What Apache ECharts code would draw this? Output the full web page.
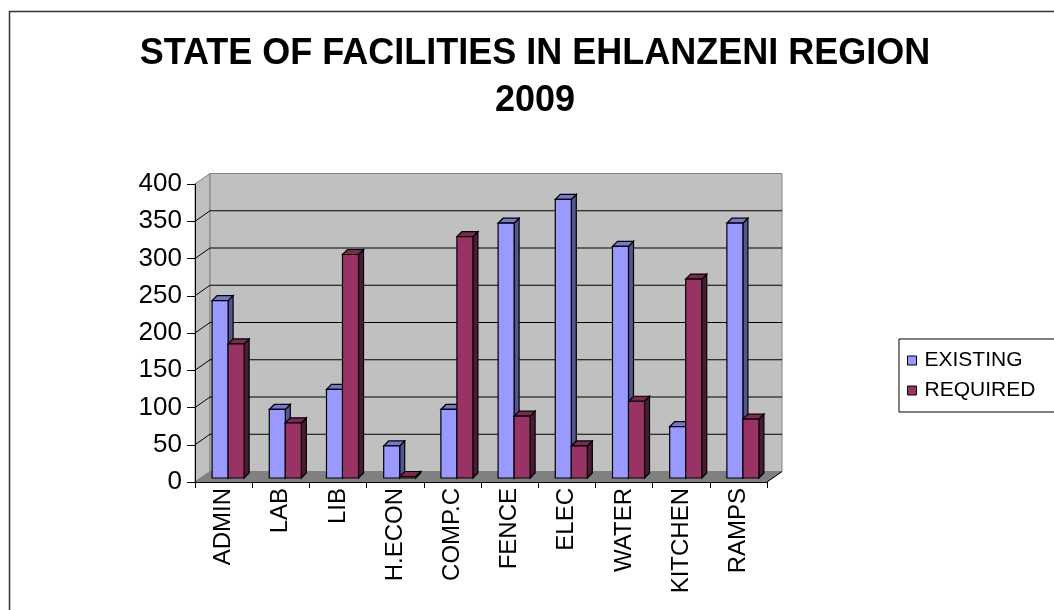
<!DOCTYPE html>
<html>
<head>
<meta charset="utf-8">
<script src="https://cdn.jsdelivr.net/npm/echarts@6/dist/echarts.min.js"></script>
<style>
  html, body { margin: 0; padding: 0; background: #fff; }
  #chart { width: 1054px; height: 610px; }
</style>
</head>
<body>
<div id="chart"></div>
<script>
// facility categories and counts
const categories = ['ADMIN', 'LAB', 'LIB', 'H.ECON', 'COMP.C', 'FENCE', 'ELEC', 'WATER', 'KITCHEN', 'RAMPS'];
const existing = [238, 92, 119, 43, 92, 342, 374, 311, 69, 342];
const required = [180, 74, 300, 2, 324, 83, 43, 103, 267, 79];
const yTicks = [0, 50, 100, 150, 200, 250, 300, 350, 400];

const font = 'Liberation Sans, Arial, sans-serif';
const wallDepth = [15, -10.5]; // how far the back wall sits behind the axes

// gray walls + floor of the excel-style 3d plot
function renderWalls(params, api) {
  const cs = params.coordSys;
  const dx = wallDepth[0], dy = wallDepth[1];
  const L = cs.x, R = cs.x + cs.width, T = cs.y, B = cs.y + cs.height;
  const children = [
    { type: 'polygon', shape: { points: [[L, T], [L + dx, T + dy], [L + dx, B + dy], [L, B]] },
      style: { fill: '#c0c0c0', stroke: '#808080', lineWidth: 1 } },
    { type: 'rect', shape: { x: L + dx, y: T + dy, width: cs.width, height: cs.height },
      style: { fill: '#c0c0c0', stroke: '#808080', lineWidth: 1 } },
    { type: 'polygon', shape: { points: [[L, B], [R, B], [R + dx, B + dy], [L + dx, B + dy]] },
      style: { fill: '#808080', stroke: '#808080', lineWidth: 1 } },
    { type: 'line', shape: { x1: R, y1: B, x2: R + dx, y2: B + dy },
      style: { stroke: '#000', lineWidth: 1 } }
  ];
  yTicks.forEach(v => {
    if (v === 0 || v === yTicks[yTicks.length - 1]) return;
    const y = api.coord([0, v])[1];
    children.push({ type: 'polyline', shape: { points: [[L, y], [L + dx, y + dy], [R + dx, y + dy]] },
      style: { stroke: '#000', lineWidth: 1, fill: null } });
  });
  return { type: 'group', children: children };
}

function bar3d(which, front, side, top) {
  return function (params, api) {
    const i = api.value(0), v = api.value(1);
    const base = api.coord([i, 0]);
    const tip = api.coord([i, v]);
    const bw = api.size([1, 0])[0] * 0.28;
    const x0 = base[0] + 4.5 + (which === 0 ? -bw : 0);
    const x1 = x0 + bw;
    const y0 = base[1] - 4, y1 = tip[1] - 4;
    const dx = 5, dy = -5;
    const ln = { stroke: '#000', lineWidth: 1.2 };
    return {
      type: 'group',
      children: [
        { type: 'polygon', shape: { points: [[x1, y0], [x1 + dx, y0 + dy], [x1 + dx, y1 + dy], [x1, y1]] },
          style: Object.assign({ fill: side }, ln) },
        { type: 'polygon', shape: { points: [[x0, y1], [x1, y1], [x1 + dx, y1 + dy], [x0 + dx, y1 + dy]] },
          style: Object.assign({ fill: top }, ln) },
        { type: 'rect', shape: { x: x0, y: y1, width: bw, height: y0 - y1 },
          style: Object.assign({ fill: front }, ln) }
      ]
    };
  };
}

const chart = echarts.init(document.getElementById('chart'));
chart.setOption({
  animation: false,
  title: {
    text: 'STATE OF FACILITIES IN EHLANZENI REGION\n2009',
    left: 535,
    top: 31,
    padding: 0,
    textAlign: 'center',
    textStyle: { fontFamily: font, fontSize: 36, fontWeight: 'bold', color: '#000', lineHeight: 47 }
  },
  graphic: [{
    type: 'rect', silent: true, z: -10,
    shape: { x: 9.5, y: 11.5, width: 1100, height: 700 },
    style: { fill: null, stroke: '#333', lineWidth: 1.5 }
  }],
  legend: {
    orient: 'vertical',
    left: 899,
    top: 339,
    padding: [11, 40, 11, 8],
    itemWidth: 9,
    itemHeight: 9,
    itemGap: 9,
    borderColor: '#000',
    borderWidth: 1,
    borderRadius: 0,
    textStyle: { fontFamily: font, fontSize: 21, color: '#000', padding: [0, 0, 0, 3] },
    data: [
      { name: 'EXISTING', icon: 'rect', itemStyle: { color: '#9999ff', borderColor: '#000', borderWidth: 1 } },
      { name: 'REQUIRED', icon: 'rect', itemStyle: { color: '#993366', borderColor: '#000', borderWidth: 1 } }
    ]
  },
  grid: { left: 195, top: 184, width: 572, height: 298, containLabel: false },
  xAxis: {
    type: 'category',
    data: categories,
    boundaryGap: true,
    axisLine: { lineStyle: { color: '#000', width: 1 } },
    axisTick: { show: true, interval: 0, length: 6, lineStyle: { color: '#000' } },
    axisLabel: { interval: 0, rotate: 90, margin: 6, fontFamily: font, fontSize: 24, color: '#000' },
    splitLine: { show: false }
  },
  yAxis: {
    type: 'value',
    min: 0,
    max: 400,
    interval: 50,
    axisLine: { show: true, lineStyle: { color: '#000', width: 1 } },
    axisTick: { show: true, length: 8, lineStyle: { color: '#000' } },
    axisLabel: { margin: 13, fontFamily: font, fontSize: 26, color: '#000' },
    splitLine: { show: false }
  },
  series: [
    {
      name: 'walls', type: 'custom', silent: true, z: 0,
      renderItem: renderWalls,
      data: [[0, 0]],
      encode: { x: 0, y: 1 }
    },
    {
      name: 'EXISTING', type: 'custom', z: 2,
      itemStyle: { color: '#9999ff' },
      renderItem: bar3d(0, '#9999ff', '#55558f', '#7777cc'),
      data: existing.map((v, i) => [i, v]),
      encode: { x: 0, y: 1 }
    },
    {
      name: 'REQUIRED', type: 'custom', z: 3,
      itemStyle: { color: '#993366' },
      renderItem: bar3d(1, '#993366', '#4d1a33', '#7a2952'),
      data: required.map((v, i) => [i, v]),
      encode: { x: 0, y: 1 }
    }
  ]
});
</script>
</body>
</html>
